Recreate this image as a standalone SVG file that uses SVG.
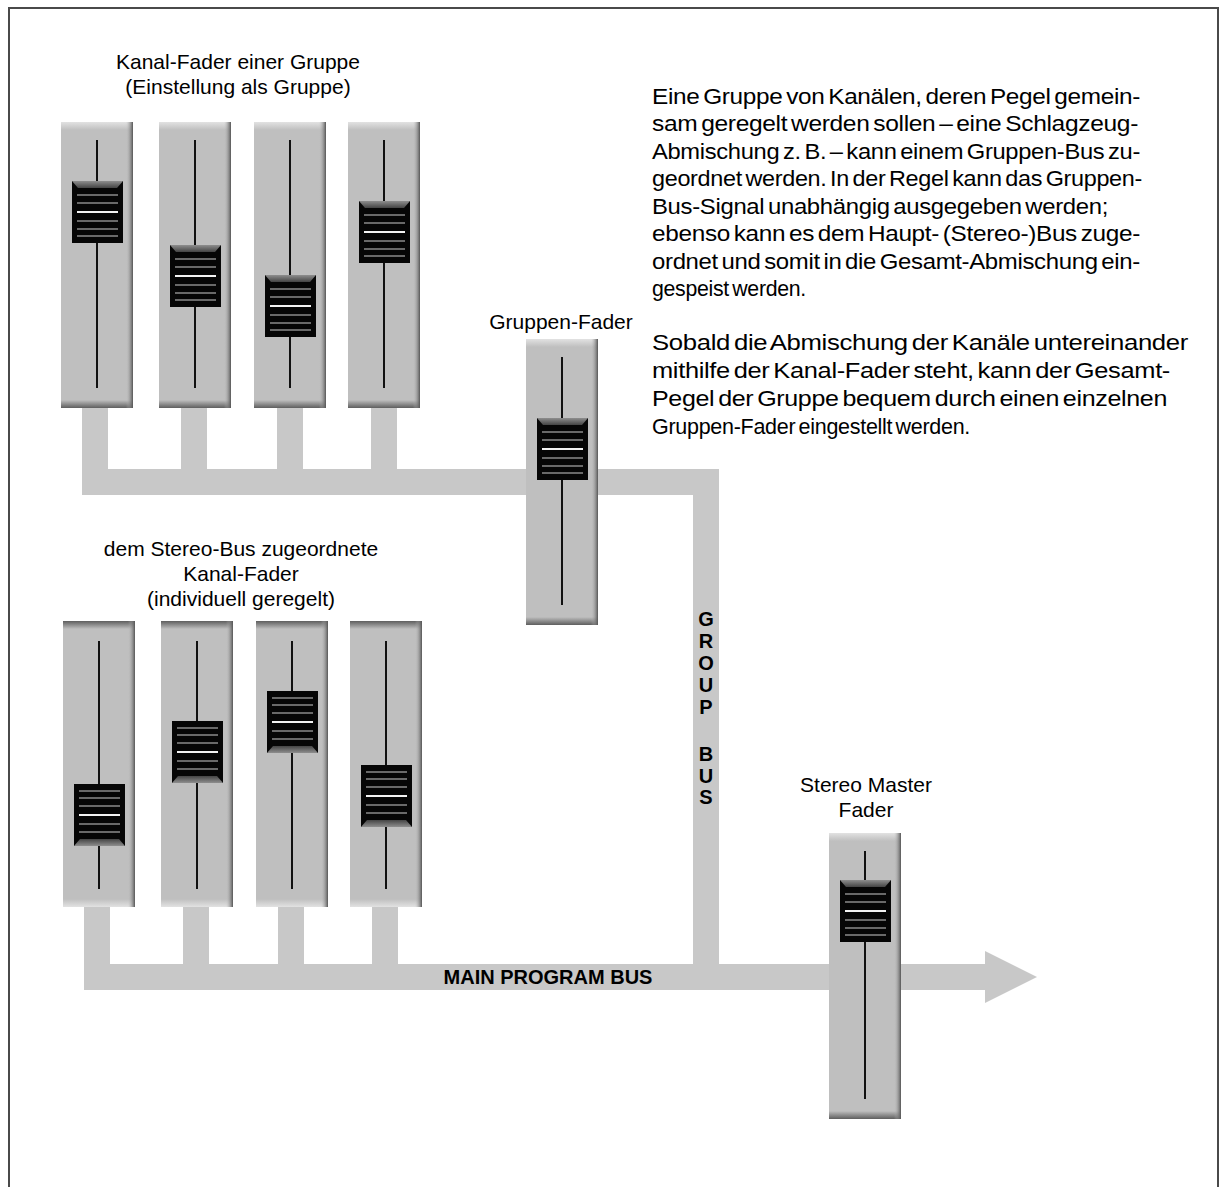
<svg xmlns="http://www.w3.org/2000/svg" xmlns:xlink="http://www.w3.org/1999/xlink" width="1224" height="1187" viewBox="0 0 1224 1187">
<style>
.lbl{font-family:"Liberation Sans",Arial,sans-serif;font-size:21px;fill:#000;text-anchor:middle}
.par{font-family:"Liberation Sans",Arial,sans-serif;font-size:22.5px;fill:#000;word-spacing:-2.5px;letter-spacing:-0.3px}
.bus{font-family:"Liberation Sans",Arial,sans-serif;font-size:20px;font-weight:bold;fill:#000;text-anchor:middle}
.wire{fill:#c8c8c8}
</style>
<defs>
<linearGradient id="gTopLight" x1="0" y1="0" x2="0" y2="1"><stop offset="0" stop-color="#e2e2e2"/><stop offset="1" stop-color="#bfbfbf"/></linearGradient>
<linearGradient id="gBotDark" x1="0" y1="0" x2="0" y2="1"><stop offset="0" stop-color="#bfbfbf"/><stop offset="1" stop-color="#5e5e5e"/></linearGradient>
<linearGradient id="gRightDark" x1="0" y1="0" x2="1" y2="0"><stop offset="0" stop-color="#bfbfbf" stop-opacity="0"/><stop offset="1" stop-color="#555"/></linearGradient>
<linearGradient id="gBevel" x1="0" y1="0" x2="0" y2="1"><stop offset="0" stop-color="#8e8e8e"/><stop offset="1" stop-color="#444"/></linearGradient>
<g id="stripT">
<rect width="72" height="286" fill="#bfbfbf"/>
<rect width="72" height="8" fill="url(#gTopLight)"/>
<rect y="278" width="72" height="8" fill="url(#gBotDark)"/>
<rect x="65" width="7" height="286" fill="url(#gRightDark)"/>
<rect x="35" y="18" width="2" height="248" fill="#111"/>
</g>
<g id="knobT">
<rect width="51" height="62" fill="#060606"/>
<polygon points="0,0 51,0 45,7 6,7" fill="url(#gBevel)"/>
<path d="M5,14H46M5,22H46M5,40H46M5,48H46M5,55H46" stroke="#8a8a8a" stroke-width="1.3"/>
<path d="M5,31H46" stroke="#f2f2f2" stroke-width="2.2"/>
</g>
</defs>
<rect width="1224" height="1187" fill="#fff"/>
<path d="M9,1187V8H1218V1187" fill="none" stroke="#4a4a4a" stroke-width="2"/>

<g id="connectors">
<rect class="wire" x="82" y="400" width="26" height="80"/>
<rect class="wire" x="181" y="400" width="26" height="80"/>
<rect class="wire" x="277" y="400" width="26" height="80"/>
<rect class="wire" x="371" y="400" width="26" height="80"/>
<rect class="wire" x="82" y="469" width="637" height="26"/>
<rect class="wire" x="693" y="469" width="26" height="521"/>
<rect class="wire" x="84" y="900" width="26" height="80"/>
<rect class="wire" x="183" y="900" width="26" height="80"/>
<rect class="wire" x="278" y="900" width="26" height="80"/>
<rect class="wire" x="372" y="900" width="26" height="80"/>
<rect class="wire" x="84" y="964" width="902" height="26"/>
<polygon class="wire" points="985,951 1037,977 985,1003"/>
</g>

<g id="fader-group-1"><use xlink:href="#stripT" transform="translate(61,122)"/><use xlink:href="#knobT" transform="translate(72,181)"/></g>
<g id="fader-group-2"><use xlink:href="#stripT" transform="translate(159,122)"/><use xlink:href="#knobT" transform="translate(170,245)"/></g>
<g id="fader-group-3"><use xlink:href="#stripT" transform="translate(254,122)"/><use xlink:href="#knobT" transform="translate(265,275)"/></g>
<g id="fader-group-4"><use xlink:href="#stripT" transform="translate(348,122)"/><use xlink:href="#knobT" transform="translate(359,201)"/></g>

<g id="fader-gruppen"><use xlink:href="#stripT" transform="translate(526,339)"/><use xlink:href="#knobT" transform="translate(537,418)"/></g>

<g id="fader-stereo-1"><use xlink:href="#stripT" transform="translate(63,907) scale(1,-1)"/><use xlink:href="#knobT" transform="translate(74,846) scale(1,-1)"/></g>
<g id="fader-stereo-2"><use xlink:href="#stripT" transform="translate(161,907) scale(1,-1)"/><use xlink:href="#knobT" transform="translate(172,783) scale(1,-1)"/></g>
<g id="fader-stereo-3"><use xlink:href="#stripT" transform="translate(256,907) scale(1,-1)"/><use xlink:href="#knobT" transform="translate(267,753) scale(1,-1)"/></g>
<g id="fader-stereo-4"><use xlink:href="#stripT" transform="translate(350,907) scale(1,-1)"/><use xlink:href="#knobT" transform="translate(361,827) scale(1,-1)"/></g>

<g id="fader-master"><use xlink:href="#stripT" transform="translate(829,833)"/><use xlink:href="#knobT" transform="translate(840,880)"/></g>

<g id="labels">
<text class="lbl" x="238" y="69">Kanal-Fader einer Gruppe</text>
<text class="lbl" x="238" y="94">(Einstellung als Gruppe)</text>
<text class="lbl" x="561" y="329">Gruppen-Fader</text>
<text class="lbl" x="241" y="556">dem Stereo-Bus zugeordnete</text>
<text class="lbl" x="241" y="581">Kanal-Fader</text>
<text class="lbl" x="241" y="606">(individuell geregelt)</text>
<text class="lbl" x="866" y="792">Stereo Master</text>
<text class="lbl" x="866" y="817">Fader</text>
<text class="bus" x="548" y="984">MAIN PROGRAM BUS</text>
<text class="bus" x="706" y="626">G</text>
<text class="bus" x="706" y="648">R</text>
<text class="bus" x="706" y="670">O</text>
<text class="bus" x="706" y="692">U</text>
<text class="bus" x="706" y="714">P</text>
<text class="bus" x="706" y="761">B</text>
<text class="bus" x="706" y="783">U</text>
<text class="bus" x="706" y="804">S</text>
</g>

<g id="description">
<text class="par" x="652" y="104" textLength="488" lengthAdjust="spacingAndGlyphs">Eine Gruppe von Kanälen, deren Pegel gemein-</text>
<text class="par" x="652" y="131" textLength="486" lengthAdjust="spacingAndGlyphs">sam geregelt werden sollen – eine Schlagzeug-</text>
<text class="par" x="652" y="159" textLength="488" lengthAdjust="spacingAndGlyphs">Abmischung z. B. – kann einem Gruppen-Bus zu-</text>
<text class="par" x="652" y="186" textLength="490" lengthAdjust="spacingAndGlyphs">geordnet werden. In der Regel kann das Gruppen-</text>
<text class="par" x="652" y="214" textLength="456" lengthAdjust="spacingAndGlyphs">Bus-Signal unabhängig ausgegeben werden;</text>
<text class="par" x="652" y="241" textLength="488" lengthAdjust="spacingAndGlyphs">ebenso kann es dem Haupt- (Stereo-)Bus zuge-</text>
<text class="par" x="652" y="269" textLength="488" lengthAdjust="spacingAndGlyphs">ordnet und somit in die Gesamt-Abmischung ein-</text>
<text class="par" x="652" y="296" textLength="154" lengthAdjust="spacingAndGlyphs">gespeist werden.</text>
<text class="par" x="652" y="350" textLength="536" lengthAdjust="spacingAndGlyphs">Sobald die Abmischung der Kanäle untereinander</text>
<text class="par" x="652" y="378" textLength="518" lengthAdjust="spacingAndGlyphs">mithilfe der Kanal-Fader steht, kann der Gesamt-</text>
<text class="par" x="652" y="406" textLength="515" lengthAdjust="spacingAndGlyphs">Pegel der Gruppe bequem durch einen einzelnen</text>
<text class="par" x="652" y="434" textLength="318" lengthAdjust="spacingAndGlyphs">Gruppen-Fader eingestellt werden.</text>
</g>
</svg>
